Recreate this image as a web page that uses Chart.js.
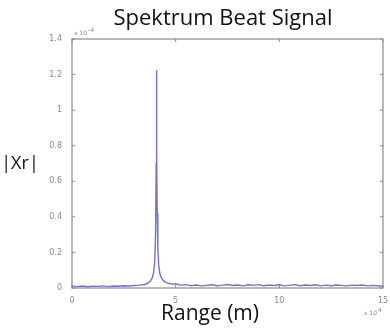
<!DOCTYPE html>
<html>
<head>
<meta charset="utf-8">
<script src="https://cdn.jsdelivr.net/npm/chart.js@4.4.1/dist/chart.umd.min.js"></script>
<style>
  html, body { margin: 0; padding: 0; background: #fff; }
  #wrap { width: 390px; height: 335px; }
</style>
</head>
<body>
<div id="wrap"><canvas id="spectrum"></canvas></div>
<script>
// Range axis (x 10^4 m) and |Xr| magnitude (x 10^-4)
const rangeX = [
  0, 0.25, 0.5, 0.75, 1, 1.25, 1.5, 1.75, 2, 2.25, 2.5, 2.75, 3, 3.25, 3.5,
  3.6, 3.7, 3.8, 3.88, 3.94, 3.99, 4.03, 4.06, 4.07, 4.08, 4.09, 4.11, 4.14,
  4.18, 4.24, 4.32, 4.42, 4.55, 4.7, 4.85, 5, 5.25, 5.5, 5.75, 6, 6.25, 6.5,
  6.75, 7, 7.25, 7.5, 7.75, 8, 8.25, 8.5, 8.75, 9, 9.25, 9.5, 9.75, 10,
  10.25, 10.5, 10.75, 11, 11.25, 11.5, 11.75, 12, 12.25, 12.5, 12.75, 13,
  13.25, 13.5, 13.75, 14, 14.25, 14.5, 14.75, 15
];
const magY = [
  0.012, 0.008, 0.011, 0.007, 0.010, 0.009, 0.012, 0.008, 0.011, 0.010, 0.013, 0.011, 0.014, 0.016, 0.020,
  0.024, 0.030, 0.042, 0.060, 0.090, 0.150, 0.300, 0.700, 1.020, 1.225, 0.800, 0.420, 0.230,
  0.130, 0.080, 0.055, 0.040, 0.030, 0.025, 0.022, 0.024, 0.016, 0.019, 0.013, 0.017, 0.012, 0.015,
  0.018, 0.013, 0.016, 0.020, 0.014, 0.017, 0.012, 0.018, 0.015, 0.019, 0.013, 0.017, 0.014, 0.018,
  0.012, 0.016, 0.019, 0.013, 0.017, 0.014, 0.018, 0.012, 0.016, 0.013, 0.017, 0.015,
  0.012, 0.016, 0.014, 0.017, 0.012, 0.015, 0.013, 0.010
];
const yTicks = [0, 0.2, 0.4, 0.6, 0.8, 1, 1.2, 1.4];
const xTicks = [0, 5, 10, 15];

const points = rangeX.map((x, i) => ({ x: x, y: magY[i] }));

// Rahmen, Innen-Ticks und Beschriftungen im Matlab-Stil
const matlabFrame = {
  id: 'matlabFrame',
  afterDraw(chart) {
    const ctx = chart.ctx;
    const a = chart.chartArea;
    const xs = chart.scales.x;
    const ys = chart.scales.y;
    ctx.save();
    ctx.strokeStyle = '#8a8a8a';
    ctx.lineWidth = 1.2;
    ctx.strokeRect(a.left, a.top, a.right - a.left, a.bottom - a.top);
    ctx.lineWidth = 1;
    xTicks.forEach(v => {
      const px = xs.getPixelForValue(v);
      ctx.beginPath();
      ctx.moveTo(px, a.bottom); ctx.lineTo(px, a.bottom - 3);
      ctx.moveTo(px, a.top); ctx.lineTo(px, a.top + 3);
      ctx.stroke();
    });
    yTicks.forEach(v => {
      const py = ys.getPixelForValue(v);
      ctx.beginPath();
      ctx.moveTo(a.left, py); ctx.lineTo(a.left + 3, py);
      ctx.moveTo(a.right, py); ctx.lineTo(a.right - 3, py);
      ctx.stroke();
    });

    ctx.fillStyle = '#111';
    ctx.textAlign = 'center';
    ctx.textBaseline = 'middle';
    ctx.font = '22px "Open Sans", sans-serif';
    ctx.fillText('Spektrum Beat Signal', 223, 19);
    ctx.font = '21px "Open Sans", sans-serif';
    ctx.fillText('Range (m)', 210, 314);
    ctx.font = '18px "Open Sans", sans-serif';
    ctx.fillText('|Xr|', 20, 164);

    ctx.fillStyle = '#888';
    ctx.font = '6px "DejaVu Sans", sans-serif';
    ctx.textAlign = 'left';
    ctx.fillText('x 10', 74, 33);
    ctx.fillText('-4', 88, 30);
    ctx.fillText('x 10', 364, 313);
    ctx.fillText('4', 378, 310);
    ctx.restore();
  }
};

new Chart(document.getElementById('spectrum').getContext('2d'), {
  type: 'line',
  data: {
    datasets: [{
      data: points,
      borderColor: 'rgba(92, 92, 190, 0.85)',
      borderWidth: 1.4,
      pointRadius: 0,
      tension: 0,
      fill: false
    }]
  },
  options: {
    responsive: true,
    maintainAspectRatio: false,
    animation: false,
    layout: { padding: { left: 0, right: 7, top: 39, bottom: 0 } },
    scales: {
      x: {
        type: 'linear',
        min: 0,
        max: 15,
        afterFit: s => { s.height = 47; },
        afterBuildTicks: s => { s.ticks = xTicks.map(v => ({ value: v })); },
        grid: { display: false },
        border: { display: false },
        ticks: {
          color: '#888',
          font: { size: 8, family: 'DejaVu Sans' },
          padding: 0,
          maxRotation: 0
        }
      },
      y: {
        min: 0,
        max: 1.4,
        afterFit: s => { s.width = 72; },
        afterBuildTicks: s => { s.ticks = yTicks.map(v => ({ value: v })); },
        grid: { display: false },
        border: { display: false },
        ticks: {
          color: '#888',
          font: { size: 8, family: 'DejaVu Sans' },
          padding: 2,
          callback: v => String(Math.round(v * 10) / 10)
        }
      }
    },
    plugins: {
      legend: { display: false },
      tooltip: { enabled: false }
    }
  },
  plugins: [matlabFrame]
});
</script>
</body>
</html>
